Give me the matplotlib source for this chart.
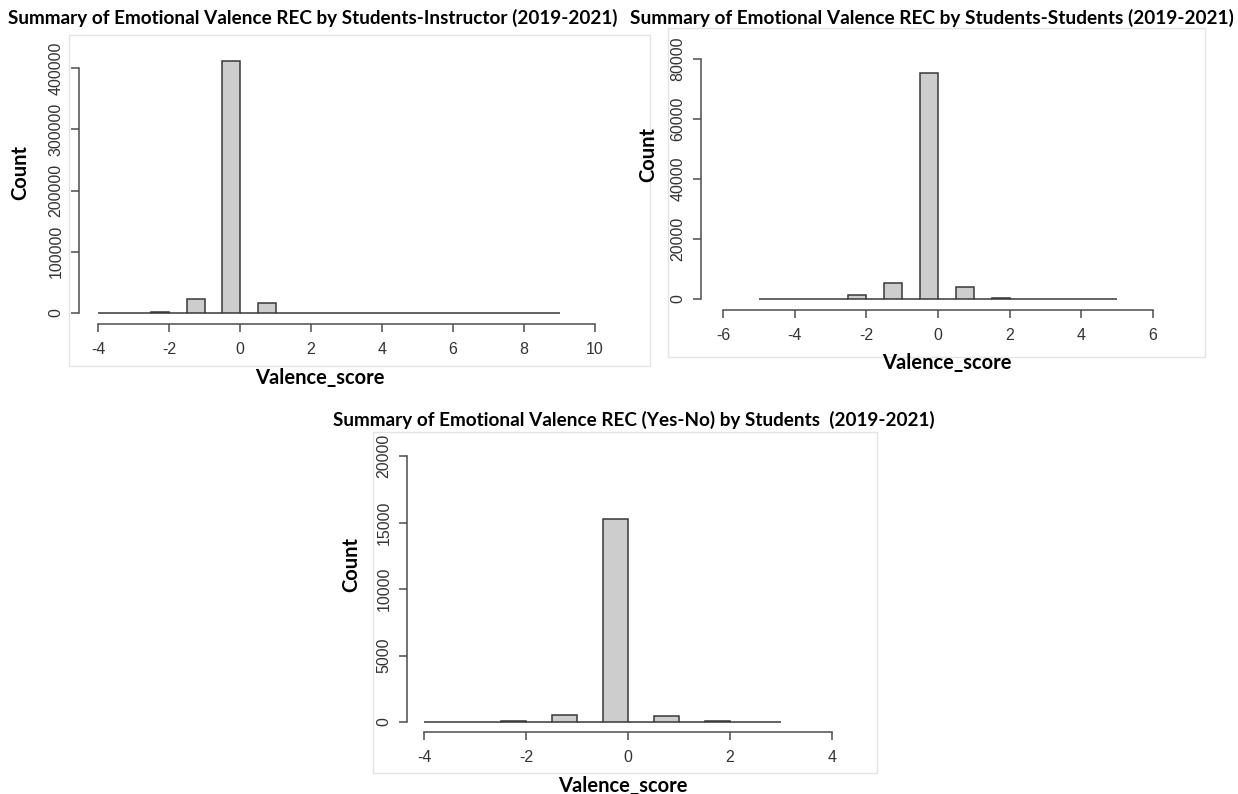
import matplotlib
matplotlib.use('Agg')
import matplotlib.pyplot as plt
from matplotlib.patches import Rectangle
import numpy as np

W, H = 1238, 794

# histogram counts per 0.5-wide bin
instr_start = -4.0
instr_counts = [0, 0, 0, 1500, 0, 23000, 0, 411000, 0, 16000, 0, 0, 0,
                0, 0, 0, 0, 0, 0, 0, 0, 0, 0, 0, 0, 0]
stud_start = -5.0
stud_counts = [0, 0, 0, 0, 0, 1400, 0, 5300, 0, 75400, 0, 4000, 0, 300,
               0, 0, 0, 0, 0, 0]
yesno_start = -4.0
yesno_counts = [0, 0, 0, 90, 0, 530, 0, 15300, 0, 480, 0, 40, 0, 0]
bin_width = 0.5

instr_xticks = [-4, -2, 0, 2, 4, 6, 8, 10]
instr_yticks = [0, 100000, 200000, 300000, 400000]
stud_xticks = [-6, -4, -2, 0, 2, 4, 6]
stud_yticks = [0, 20000, 40000, 60000, 80000]
yesno_xticks = [-4, -2, 0, 2, 4]
yesno_yticks = [0, 5000, 10000, 15000, 20000]

titles = ['Summary of Emotional Valence REC by Students-Instructor (2019-2021)',
          'Summary of Emotional Valence REC by Students-Students (2019-2021)',
          'Summary of Emotional Valence REC (Yes-No) by Students  (2019-2021)']

TICK_FONT = ['Liberation Sans', 'DejaVu Sans']
BOLD_FONT = ['Lato', 'DejaVu Sans']


def fx(x):
    return x / W


def fy(y):
    return (H - y) / H


def panel(fig, counts, start, xticks, yticks, px):
    # px: x of first/last xtick, y of zero/top ytick, y-axis x, x-axis y
    x0, x1, y0, y1, yax, xax = px
    ax = fig.add_axes([fx(x0), fy(y0), fx(x1 - x0), (y0 - y1) / H])
    edges = start + bin_width * np.arange(len(counts))
    ax.bar(edges, counts, width=bin_width, align='edge', color='#cdcdcd',
           edgecolor='#383838', linewidth=1.1, clip_on=False)
    ax.set_xlim(xticks[0], xticks[-1])
    ax.set_ylim(yticks[0], yticks[-1])
    ax.set_xticks(xticks)
    ax.set_yticks(yticks)
    ax.set_xticklabels([str(t) for t in xticks])
    ax.set_yticklabels([str(t) for t in yticks])
    ax.patch.set_visible(False)
    for s in ['top', 'right']:
        ax.spines[s].set_visible(False)
    ax.spines['left'].set_position(('outward', (x0 - yax) * 72 / 100))
    ax.spines['bottom'].set_position(('outward', (xax - y0) * 72 / 100))
    ax.spines['left'].set_bounds(yticks[0], yticks[-1])
    ax.spines['bottom'].set_bounds(xticks[0], xticks[-1])
    for s in ['left', 'bottom']:
        ax.spines[s].set_color('#4d4d4d')
        ax.spines[s].set_linewidth(1.1)
    ax.tick_params(length=6, width=1.1, color='#4d4d4d', labelcolor='#333333',
                   labelsize=11.5)
    ax.tick_params(axis='x', pad=7)
    ax.tick_params(axis='y', pad=5, labelrotation=90)
    for lab in ax.get_yticklabels():
        lab.set_verticalalignment('center')
        lab.set_family(TICK_FONT)
    for lab in ax.get_xticklabels():
        lab.set_family(TICK_FONT)
    return ax


def border(fig, x0, y0, x1, y1):
    fig.patches.append(Rectangle((fx(x0), fy(y1)), fx(x1 - x0), (y1 - y0) / H,
                                 transform=fig.transFigure, fill=False,
                                 edgecolor='#e4e4e4', linewidth=1.0))


fig = plt.figure(figsize=(W / 100, H / 100), dpi=100)
fig.patch.set_facecolor('white')

border(fig, 69, 35, 650, 366)
border(fig, 668, 28, 1205, 357)
border(fig, 373, 432, 877, 773)

panel(fig, instr_counts, instr_start, instr_xticks, instr_yticks,
      (98, 595, 313, 68, 79, 324))
panel(fig, stud_counts, stud_start, stud_xticks, stud_yticks,
      (723, 1153, 299, 59, 701, 310))
panel(fig, yesno_counts, yesno_start, yesno_xticks, yesno_yticks,
      (424, 832, 722, 456, 407, 732))

# titles
fig.text(fx(8), fy(18), titles[0], ha='left', va='center', fontsize=13.6,
         fontweight='bold', family=BOLD_FONT)
fig.text(fx(630), fy(18), titles[1], ha='left', va='center', fontsize=13.7,
         fontweight='bold', family=BOLD_FONT)
fig.text(fx(634), fy(420), titles[2], ha='center', va='center', fontsize=13.6,
         fontweight='bold', family=BOLD_FONT)

# axis labels
for (x, y) in [(320, 378), (947, 363), (623, 786)]:
    fig.text(fx(x), fy(y), 'Valence_score', ha='center', va='center',
             fontsize=14.5, fontweight='bold', family=BOLD_FONT)
for (x, y) in [(20, 172), (648, 155), (351, 565)]:
    fig.text(fx(x), fy(y), 'Count', ha='center', va='center', rotation=90,
             fontsize=14.5, fontweight='bold', family=BOLD_FONT)

fig.savefig('out.png', dpi=100)
